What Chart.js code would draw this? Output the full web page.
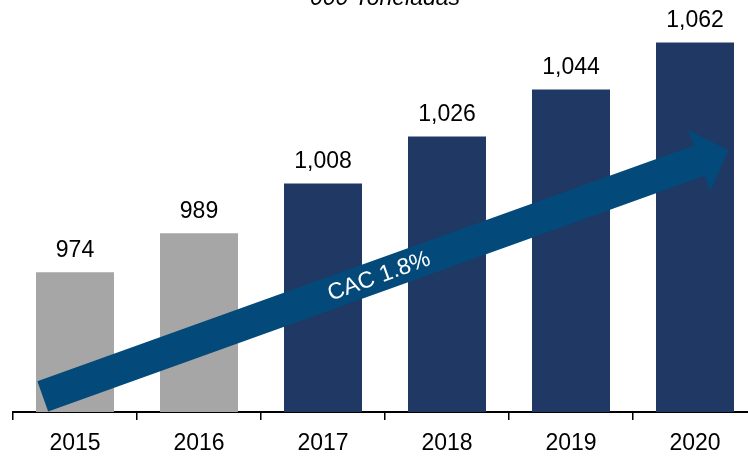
<!DOCTYPE html>
<html>
<head>
<meta charset="utf-8">
<script src="https://cdn.jsdelivr.net/npm/chart.js@4/dist/chart.umd.min.js"></script>
<style>
  html, body { margin: 0; padding: 0; background: #fff; overflow: hidden; }
  #wrap { width: 760px; height: 456px; }
</style>
</head>
<body>
<div id="wrap"><canvas id="grafico" width="760" height="456"></canvas></div>
<script>
// ===== DADOS =====
const anos = ['2015', '2016', '2017', '2018', '2019', '2020'];
const toneladas = [974, 989, 1008, 1026, 1044, 1062];
const coresBarras = ['#A6A6A6', '#A6A6A6', '#203864', '#203864', '#203864', '#203864'];
const titulo = '000 Toneladas';
const textoCAC = 'CAC 1.8%';

const FONTE = '"Liberation Sans", Arial, sans-serif';

// ===== PLUGIN: título, rótulos e seta =====
const extras = {
    id: 'extras',
    afterDatasetsDraw(chart) {
        const ctx = chart.ctx;
        const x = chart.scales.x;
        const y = chart.scales.y;
        const passo = x.getPixelForValue(1) - x.getPixelForValue(0);

        // seta CAC (ancorada nas escalas)
        const x0 = x.getPixelForValue(0) - 0.26 * passo;
        const y0 = y.getPixelForValue(926.5);
        const x1 = x.getPixelForValue(5) + 0.27 * passo;
        const y1 = y.getPixelForValue(1020.8);
        const ang = Math.atan2(y1 - y0, x1 - x0);
        const comp = Math.hypot(x1 - x0, y1 - y0);
        const meia = 16, cabeca = 32.5, compCabeca = 31;

        ctx.save();
        ctx.translate(x0, y0);
        ctx.rotate(ang);
        ctx.fillStyle = '#034A7B';
        ctx.beginPath();
        ctx.moveTo(0, -meia);
        ctx.lineTo(comp - compCabeca, -meia);
        ctx.lineTo(comp - compCabeca, -cabeca);
        ctx.lineTo(comp, 0);
        ctx.lineTo(comp - compCabeca, cabeca);
        ctx.lineTo(comp - compCabeca, meia);
        ctx.lineTo(0, meia);
        ctx.closePath();
        ctx.fill();

        ctx.fillStyle = '#ffffff';
        ctx.font = '23px ' + FONTE;
        ctx.textAlign = 'center';
        ctx.textBaseline = 'middle';
        ctx.fillText(textoCAC, 357, 1);
        ctx.restore();

        // rótulos dos valores
        ctx.save();
        ctx.fillStyle = '#000';
        ctx.font = '23px ' + FONTE;
        ctx.textAlign = 'center';
        ctx.textBaseline = 'alphabetic';
        chart.getDatasetMeta(0).data.forEach((barra, i) => {
            ctx.fillText(toneladas[i].toLocaleString('en-US'), barra.x, barra.y - 15.5);
        });

        // título (cortado no topo)
        ctx.font = 'italic 23px ' + FONTE;
        ctx.fillText(titulo, 385, 5);
        ctx.restore();
    }
};

new Chart(document.getElementById('grafico'), {
    type: 'bar',
    data: {
        labels: anos,
        datasets: [{
            data: toneladas,
            backgroundColor: coresBarras,
            barPercentage: 0.629,
            categoryPercentage: 1
        }]
    },
    options: {
        responsive: false,
        animation: false,
        layout: { padding: { left: 13, right: 3, top: 0, bottom: 0 } },
        plugins: {
            legend: { display: false },
            tooltip: { enabled: false }
        },
        scales: {
            x: {
                offset: true,
                afterFit: s => { s.height = 44; },
                grid: {
                    display: true,
                    offset: true,
                    drawOnChartArea: false,
                    drawTicks: true,
                    tickLength: 8,
                    color: '#000',
                    lineWidth: 1.5
                },
                border: { display: true, color: '#000', width: 2 },
                ticks: {
                    color: '#000',
                    padding: 10,
                    font: { family: FONTE, size: 23 }
                }
            },
            y: {
                display: false,
                min: 920.5,
                max: 1078.3
            }
        }
    },
    plugins: [extras]
});
</script>
</body>
</html>
